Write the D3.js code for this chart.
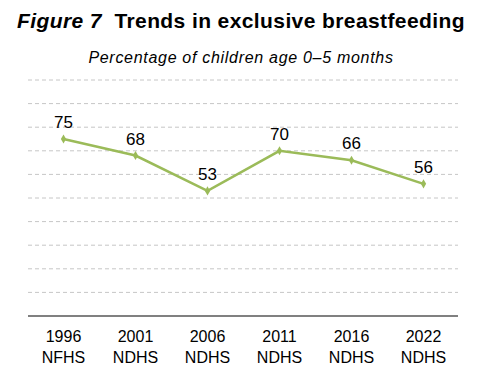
<html>
<head>
<script src="https://d3js.org/d3.v7.min.js"></script>
<style>
body { margin: 0; background: white; }
text { font-family: "Liberation Sans", Arial, sans-serif; }
</style>
</head>
<body>
<svg id="chart" width="490" height="383"></svg>
<script>
// chart data
var surveyYears = ["1996", "2001", "2006", "2011", "2016", "2022"];
var surveyNames = ["NFHS", "NDHS", "NDHS", "NDHS", "NDHS", "NDHS"];
var pctExclusive = [75, 68, 53, 70, 66, 56];
var gridTicks = [10, 20, 30, 40, 50, 60, 70, 80, 90, 100];

var svg = d3.select("#chart");

var x = d3.scaleBand()
  .domain(surveyYears)
  .range([27.5, 459.5]);

var y = d3.scaleLinear()
  .domain([0, 100])
  .range([316, 80]);

// title
var title = svg.append("text")
  .attr("x", 241)
  .attr("y", 28)
  .attr("text-anchor", "middle")
  .style("font-size", "21px")
  .style("letter-spacing", "0.4px")
  .style("font-weight", "bold");
title.append("tspan").style("font-style", "italic").text("Figure 7");
title.append("tspan").text("\u00a0 Trends in exclusive breastfeeding");

svg.append("text")
  .attr("x", 241)
  .attr("y", 62.5)
  .attr("text-anchor", "middle")
  .style("font-size", "16px")
  .style("letter-spacing", "0.7px")
  .style("font-style", "italic")
  .text("Percentage of children age 0\u20135 months");

// dashed gridlines
svg.append("g")
  .selectAll("line")
  .data(gridTicks)
  .enter().append("line")
  .attr("x1", 28)
  .attr("x2", 458)
  .attr("y1", function(d) { return y(d); })
  .attr("y2", function(d) { return y(d); })
  .style("stroke", "#c6c6c6")
  .style("stroke-width", 1)
  .style("stroke-dasharray", "4,3");

// x axis
var xAxis = svg.append("g")
  .attr("transform", "translate(0," + y(0) + ")")
  .call(d3.axisBottom(x).tickSize(0).tickPadding(0));
xAxis.select(".domain")
  .attr("d", "M28,0H458")
  .style("stroke", "#808080")
  .style("stroke-width", 2);
xAxis.selectAll(".tick text").remove();
xAxis.selectAll(".tick").each(function(d, i) {
  var t = d3.select(this).append("text")
    .attr("text-anchor", "middle")
    .attr("fill", "black")
    .style("font-size", "16px")
    .style("font-family", "Liberation Sans, Arial, sans-serif");
  t.append("tspan").attr("x", 0).attr("y", 26).text(d);
  t.append("tspan").attr("x", 0).attr("y", 47).text(surveyNames[i]);
});

var cx = function(d, i) { return x(surveyYears[i]) + x.bandwidth() / 2; };

// line
var line = d3.line()
  .x(cx)
  .y(function(d) { return y(d); });

svg.append("path")
  .datum(pctExclusive)
  .attr("d", line)
  .style("fill", "none")
  .style("stroke", "#9bbb59")
  .style("stroke-width", 2.5);

// markers
svg.append("g")
  .selectAll("path")
  .data(pctExclusive)
  .enter().append("path")
  .attr("d", d3.symbol().type(d3.symbolDiamond).size(24))
  .attr("transform", function(d, i) { return "translate(" + cx(d, i) + "," + y(d) + ")"; })
  .style("fill", "#9bbb59");

// value labels
svg.append("g")
  .selectAll("text")
  .data(pctExclusive)
  .enter().append("text")
  .attr("x", cx)
  .attr("y", function(d) { return y(d) - 11; })
  .attr("text-anchor", "middle")
  .style("font-size", "17px")
  .text(function(d) { return d; });
</script>
</body>
</html>
